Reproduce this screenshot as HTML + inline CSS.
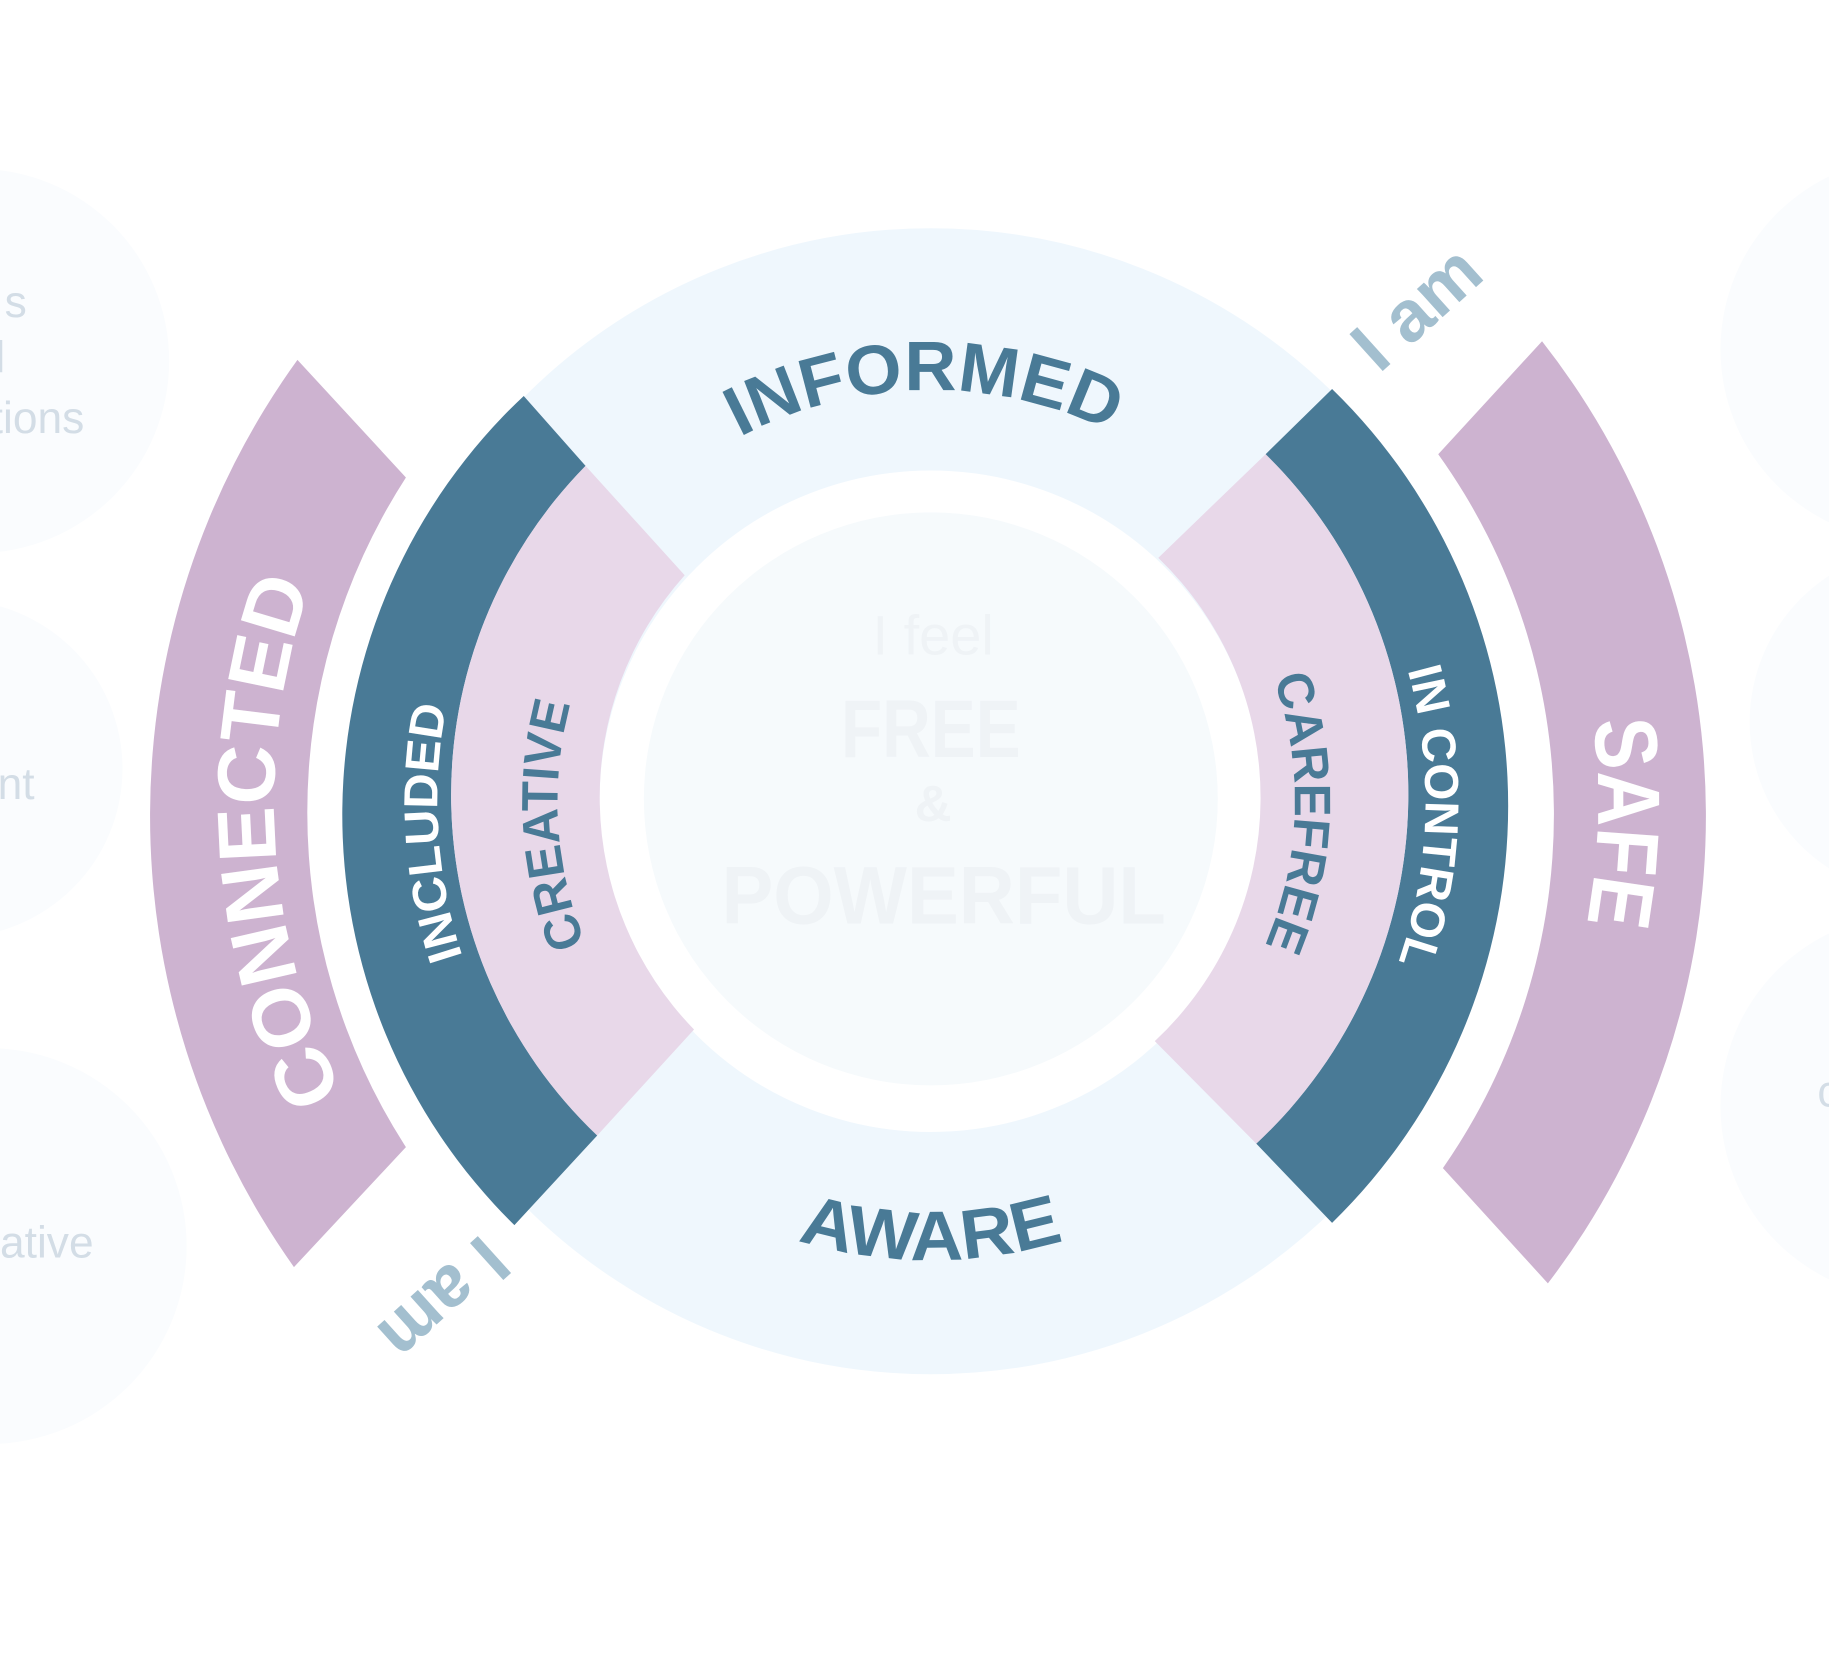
<!DOCTYPE html>
<html><head><meta charset="utf-8"><style>
html,body{margin:0;padding:0;background:#fff;}
svg{display:block;}
text{font-family:"Liberation Sans",sans-serif;}
</style></head><body>
<svg width="1829" height="1677" viewBox="0 0 1568 1440" preserveAspectRatio="none" xmlns="http://www.w3.org/2000/svg">
<defs>
<path id="pConn" d="M798,1251 A563,563 0 0 1 798,125"/>
<path id="pIncl" d="M798,1111 A423,423 0 0 1 798,265"/>
<path id="pCrea" d="M798,1008 A320,320 0 0 1 798,368"/>
<path id="pCare" d="M798,376 A312,312 0 0 1 798,1000"/>
<path id="pCtrl" d="M798,264 A424,424 0 0 1 798,1112"/>
<path id="pSafe" d="M798,116 A572,572 0 0 1 798,1260"/>
<path id="pInf" d="M445,688 A353,353 0 0 1 1151,688"/>
<path id="pAw" d="M404,688 A394,394 0 0 0 1192,688"/>
</defs>
<rect width="1568" height="1440" fill="#fff"/>
<g fill="#fafcfe">
<circle cx="-20" cy="310" r="165"/>
<circle cx="-40" cy="660" r="145"/>
<circle cx="-10" cy="1070" r="170"/>
<circle cx="1640" cy="300" r="165"/>
<circle cx="1650" cy="620" r="150"/>
<circle cx="1640" cy="950" r="165"/>
</g>
<g fill="#d3dde6" font-size="38">
<text x="4" y="272">s</text>
<text x="-4" y="320">l</text>
<text x="-8" y="372">tions</text>
<text x="-2" y="686">nt</text>
<text x="0" y="1080">ative</text>
<text x="1558" y="950">c</text>
</g>
<circle cx="798" cy="688" r="388" fill="none" stroke="#eff7fd" stroke-width="208"/>
<circle cx="798" cy="686" r="246" fill="#f6fafc"/>
<path d="M449,340 A494,494 0 0 0 441,1052 L512,975 A404,404 0 0 1 502,400 Z" fill="#497a96"/>
<path d="M502,400 A404,404 0 0 0 512,975 L595,884 A286,286 0 0 1 587,494 Z" fill="#e8d8e9"/>
<path d="M1142,334 A500,500 0 0 1 1142,1050 L1077,982 A410,410 0 0 0 1085,390 Z" fill="#497a96"/>
<path d="M1085,390 A410,410 0 0 1 1077,982 L990,894 A286,286 0 0 0 993,479 Z" fill="#e8d8e9"/>
<path d="M255,309 A670,670 0 0 0 252,1088 L348,985 A531,531 0 0 1 348,410 Z" fill="#cdb3d0"/>
<path d="M1322,293 A662,662 0 0 1 1327,1102 L1237,1003 A532,532 0 0 0 1233,390 Z" fill="#cdb3d0"/>
<text font-size="70" font-weight="bold" fill="#fff" text-anchor="middle"><textPath href="#pConn" startOffset="48%" textLength="450" lengthAdjust="spacingAndGlyphs">CONNECTED</textPath></text>
<text font-size="41" font-weight="bold" fill="#fff" text-anchor="middle"><textPath href="#pIncl" startOffset="48%" textLength="218" lengthAdjust="spacingAndGlyphs">INCLUDED</textPath></text>
<text font-size="44" font-weight="bold" fill="#497a96" text-anchor="middle"><textPath href="#pCrea" startOffset="48%" textLength="210" lengthAdjust="spacingAndGlyphs">CREATIVE</textPath></text>
<text font-size="44" font-weight="bold" fill="#497a96" text-anchor="middle"><textPath href="#pCare" startOffset="51%" textLength="235" lengthAdjust="spacingAndGlyphs">CAREFREE</textPath></text>
<text font-size="41" font-weight="bold" fill="#fff" text-anchor="middle"><textPath href="#pCtrl" startOffset="51%" textLength="255" lengthAdjust="spacingAndGlyphs">IN CONTROL</textPath></text>
<text font-size="76" font-weight="bold" fill="#fff" text-anchor="middle"><textPath href="#pSafe" startOffset="51%" textLength="175" lengthAdjust="spacingAndGlyphs">SAFE</textPath></text>
<text font-size="60" font-weight="bold" fill="#497a96" text-anchor="middle"><textPath href="#pInf" startOffset="49.5%" textLength="330" lengthAdjust="spacingAndGlyphs">INFORMED</textPath></text>
<text font-size="60" font-weight="bold" fill="#497a96" text-anchor="middle"><textPath href="#pAw" startOffset="50%" textLength="232" lengthAdjust="spacingAndGlyphs">AWARE</textPath></text>
<text x="1215" y="285" font-size="62" font-weight="bold" fill="#a3bfcf" text-anchor="middle" transform="rotate(-42 1215 265)">I am</text>
<text x="380" y="1135" font-size="62" font-weight="bold" fill="#a3bfcf" text-anchor="middle" transform="rotate(138 380 1115)">I am</text>
<g fill="#eff3f6" text-anchor="middle">
<text x="800" y="562" font-size="48">I feel</text>
<text x="798" y="650" font-size="70" font-weight="bold" textLength="154" lengthAdjust="spacingAndGlyphs">FREE</text>
<text x="800" y="705" font-size="44" font-weight="bold">&amp;</text>
<text x="809" y="793" font-size="70" font-weight="bold" textLength="381" lengthAdjust="spacingAndGlyphs">POWERFUL</text>
</g>
</svg>
</body></html>
